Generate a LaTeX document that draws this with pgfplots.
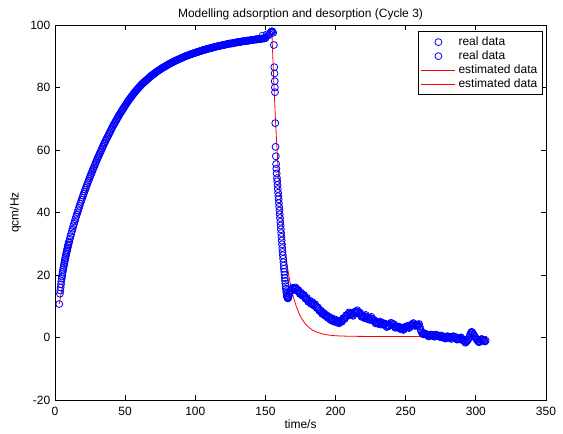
\documentclass[border=0pt]{standalone}
\usepackage{fontspec}
\setmainfont{Liberation Sans}
\usepackage{pgfplots}
\pgfplotsset{compat=1.18}
\usepackage{pgfplotstable}
\usetikzlibrary{calc}

\pgfplotsset{
  marklegend/.style={legend image code/.code={\draw[##1] plot coordinates {(0.45cm,0cm)};}},
  linelegend/.style={legend image code/.code={\draw[##1] (0cm,0cm) -- (0.9cm,0cm);}},
}

% measured data, adsorption part
\pgfplotstableread{
t y
3 10.7
3.5 14.0
3.75 15.0
4 16.0
4.25 17.0
4.5 18.0
4.75 18.8
5 19.5
5.25 20.3
5.5 21.0
5.75 21.7
6 22.3
6.25 22.9
6.5 23.5
6.75 24.1
7 24.7
7.25 25.3
7.5 25.8
7.75 26.4
8 26.9
8.25 27.4
8.5 27.9
8.75 28.4
9 28.9
9.25 29.4
9.5 29.8
9.75 30.3
10 30.7
10.5 31.55
11 32.4
11.5 33.2
12 34.0
12.5 34.8
13 35.6
13.5 36.35
14 37.1
14.5 37.85
15 38.6
15.5 39.3
16 40.0
16.5 40.7
17 41.4
17.5 42.1
18 42.8
18.5 43.45
19 44.1
19.5 44.75
20 45.4
20.5 46.05
21 46.7
21.5 47.3
22 47.9
22.5 48.5
23 49.1
23.5 49.7
24 50.3
24.5 50.9
25 51.5
25.5 52.05
26 52.6
26.5 53.15
27 53.7
27.5 54.25
28 54.8
28.5 55.35
29 55.9
29.5 56.45
30 57.0
30.5 57.5
31 58.0
31.5 58.5
32 59.0
32.5 59.5
33 60.0
33.5 60.5
34 61.0
34.5 61.5
35 62.0
35.5 62.45
36 62.9
36.5 63.35
37 63.8
37.5 64.25
38 64.7
38.5 65.15
39 65.6
39.5 66.05
40 66.5
40.5 66.95
41 67.4
41.5 67.8
42 68.2
42.5 68.6
43 69.0
43.5 69.4
44 69.8
44.5 70.2
45 70.6
45.5 71.0
46 71.4
46.5 71.75
47 72.1
47.5 72.45
48 72.8
48.5 73.15
49 73.5
49.5 73.85
50 74.2
50.5 74.55
51 74.9
51.5 75.25
52 75.6
52.5 75.9
53 76.2
53.5 76.5
54 76.8
54.5 77.1
55 77.4
55.5 77.7
56 78.0
56.5 78.3
57 78.6
57.5 78.85
58 79.1
58.5 79.35
59 79.6
59.5 79.85
60 80.1
60.5 80.35
61 80.6
61.5 80.85
62 81.1
62.5 81.3
63 81.5
63.5 81.7
64 81.9
64.5 82.1
65 82.3
65.5 82.5
66 82.7
66.5 82.9
67 83.1
67.5 83.3
68 83.5
68.5 83.7
69 83.9
69.5 84.05
70 84.2
70.5 84.35
71 84.5
71.5 84.7
72 84.9
72.5 85.05
73 85.2
73.5 85.35
74 85.5
74.5 85.65
75 85.8
75.5 85.95
76 86.1
76.5 86.25
77 86.4
77.5 86.5
78 86.6
78.5 86.75
79 86.9
79.5 87.05
80 87.2
80.5 87.3
81 87.4
81.5 87.55
82 87.7
82.5 87.8
83 87.9
83.5 88.0
84 88.1
84.5 88.25
85 88.4
85.5 88.5
86 88.6
86.5 88.7
87 88.8
87.5 88.9
88 89.0
88.5 89.1
89 89.2
89.5 89.3
90 89.4
90.5 89.5
91 89.6
91.5 89.7
92 89.8
92.5 89.9
93 90.0
93.5 90.1
94 90.2
94.5 90.25
95 90.3
95.5 90.4
96 90.5
96.5 90.6
97 90.7
97.5 90.75
98 90.8
98.5 90.9
99 91.0
99.5 91.05
100 91.1
100.5 91.2
101 91.3
101.5 91.35
102 91.4
102.5 91.5
103 91.6
103.5 91.65
104 91.7
104.5 91.8
105 91.9
105.5 91.95
106 92.0
106.5 92.05
107 92.1
107.5 92.2
108 92.3
108.5 92.35
109 92.4
109.5 92.45
110 92.5
110.5 92.55
111 92.6
111.5 92.65
112 92.7
112.5 92.8
113 92.9
113.5 92.95
114 93.0
114.5 93.05
115 93.1
115.5 93.15
116 93.2
116.5 93.25
117 93.3
117.5 93.35
118 93.4
118.5 93.45
119 93.5
119.5 93.55
120 93.6
120.5 93.65
121 93.7
121.5 93.75
122 93.8
122.5 93.85
123 93.9
123.5 93.95
124 94.0
124.5 94.05
125 94.1
125.5 94.1
126 94.1
126.5 94.15
127 94.2
127.5 94.25
128 94.3
128.5 94.35
129 94.4
129.5 94.45
130 94.5
130.5 94.5
131 94.5
131.5 94.55
132 94.6
132.5 94.65
133 94.7
133.5 94.75
134 94.8
134.5 94.8
135 94.8
135.5 94.85
136 94.9
136.5 94.95
137 95.0
137.5 95.0
138 95.0
138.5 95.05
139 95.1
139.5 95.15
140 95.2
140.5 95.2
141 95.2
141.5 95.25
142 95.3
142.5 95.35
143 95.4
143.5 95.4
144 95.4
144.5 95.45
145 95.5
145.5 95.5
146 95.5
146.5 95.55
147 95.6
147.5 95.65
148 95.7
148.5 95.7
149 95.7
149.5 95.75
150 95.8
148 96.6
151 97.0
152 96.7
}\adsreal

% measured data, desorption part
\pgfplotstableread{
t y
153 97.0
153.5 97.5
154 97.8
154.5 98.0
155 97.9
155.5 97.5
156 93.6
156.3 86.5
156.5 84.5
156.6 82.0
156.7 80.0
156.8 78.5
157 68.6
157.2 61.0
157.4 58.0
157.6 55.5
157.8 54.0
158 52.5
158.2 51.0
158.4 50.0
158.6 48.8
158.8 47.5
159 46.3
159.2 45.2
159.4 44.2
159.6 43.0
159.8 41.8
160 40.6
160.2 39.4
160.4 38.2
160.6 37.0
160.8 35.8
161 34.6
161.2 33.4
161.4 32.2
161.6 31.0
161.8 29.8
162 28.6
162.2 27.4
162.4 26.3
162.6 25.2
162.8 24.1
163 23.0
163.2 22.0
163.4 21.0
163.6 20.0
163.8 19.0
164 18.1
164.2 17.2
164.4 16.4
164.6 15.6
164.8 14.8
165 14.1
165.2 13.5
165.4 13.1
165.6 12.8
165.8 12.6
166 12.5
166.2 12.6
166.4 12.9
166.6 13.3
166.8 13.8
167 14.0
167.5 14.9
168 15.0
168.5 15.0
169 15.5
169.5 15.9
170 15.8
170.5 15.3
171 15.7
171.5 16.0
172 15.5
172.5 14.9
173 15.0
173.5 15.2
174 14.5
174.5 13.9
175 14.0
175.5 14.3
176 13.8
176.5 13.3
177 13.5
177.5 13.6
178 13.0
178.5 12.4
179 12.5
179.5 12.7
180 12.0
180.5 11.4
181 11.5
181.5 11.8
182 11.2
182.5 10.7
183 11.0
183.5 11.3
184 10.8
184.5 10.2
185 10.5
185.5 10.6
186 10.0
186.5 9.4
187 9.5
187.5 9.6
188 9.0
188.5 8.4
189 8.5
189.5 8.6
190 8.0
190.5 7.5
191 7.7
191.5 7.9
192 7.4
192.5 6.9
193 7.0
193.5 7.2
194 6.7
194.5 6.2
195 6.4
195.5 6.6
196 6.0
196.5 5.5
197 5.8
197.5 6.1
198 5.6
198.5 5.1
199 5.5
199.5 5.8
200 5.3
200.5 4.8
201 5.0
201.5 5.3
202 4.8
202.5 4.5
203 5.0
203.5 5.5
204 5.2
204.5 5.0
205 5.6
205.5 6.2
206 6.0
206.5 5.9
207 6.5
207.5 7.1
208 7.0
208.5 6.9
209 7.5
209.5 8.0
210 7.7
210.5 7.2
211 7.5
211.5 7.8
212 7.2
212.5 6.9
213 7.6
213.5 8.2
214 8.0
214.5 7.8
215 8.3
215.5 8.7
216 8.2
216.5 7.6
217 7.8
217.5 7.9
218 7.2
218.5 6.6
219 6.8
219.5 7.0
220 6.5
220.5 6.2
221 6.8
221.5 7.2
222 6.5
222.5 5.9
223 6.0
223.5 6.3
224 5.8
224.5 5.6
225 6.2
225.5 6.6
226 6.0
226.5 5.4
227 5.5
227.5 5.6
228 5.0
228.5 4.5
229 4.6
229.5 4.9
230 4.5
230.5 4.3
231 4.8
231.5 5.1
232 4.6
232.5 4.1
233 4.3
233.5 4.7
234 4.5
234.5 4.0
235 4.3
235.5 4.4
236 3.8
236.5 3.3
237 3.5
237.5 3.9
238 3.8
238.5 3.7
239 4.2
239.5 4.7
240 4.5
240.5 4.0
241 4.3
241.5 4.2
242 3.6
242.5 3.1
243 3.2
243.5 3.6
244 3.5
244.5 3.1
245 3.3
245.5 3.4
246 3.0
246.5 2.6
247 2.8
247.5 3.0
248 2.6
248.5 2.4
249 2.9
249.5 3.4
250 3.3
250.5 3.2
251 3.6
251.5 3.7
252 3.2
252.5 3.0
253 3.5
253.5 4.0
254 3.9
254.5 3.8
255 4.3
255.5 4.6
256 4.2
256.5 3.7
257 3.8
257.5 4.1
258 4.0
258.5 3.7
259 4.1
259.5 4.3
260 3.5
260.5 2.6
261 2.0
261.5 1.5
262 1.3
262.5 1.0
263 1.0
263.5 1.3
264 1.2
264.5 0.9
265 0.8
265.5 0.8
266 0.5
266.5 0.3
267 0.6
267.5 0.9
268 0.9
268.5 0.6
269 0.7
269.5 0.8
270 0.4
270.5 0.2
271 0.6
271.5 0.9
272 0.8
272.5 0.5
273 0.5
273.5 0.6
274 0.3
274.5 0.1
275 0.5
275.5 0.6
276 0.2
276.5 -0.1
277 0.0
277.5 0.2
278 -0.2
278.5 -0.4
279 0.1
279.5 0.4
280 0.3
280.5 0.0
281 0.1
281.5 0.2
282 -0.2
282.5 -0.5
283 0.0
283.5 0.3
284 0.4
284.5 0.1
285 0.2
285.5 0.1
286 -0.3
286.5 -0.7
287 -0.6
287.5 -0.3
288 -0.4
288.5 -0.6
289 -0.1
289.5 0.0
290 -0.5
290.5 -0.9
291 -0.9
291.5 -1.0
292 -1.3
292.5 -1.7
293 -1.5
293.5 -1.2
294 -1.0
294.5 -0.7
295 -0.2
295.5 0.4
296 1.0
296.5 1.5
297 1.8
297.5 1.6
298 1.2
298.5 0.8
299 0.5
299.5 0.1
300 -0.3
300.5 -0.6
301 -0.8
301.5 -1.2
302 -1.5
302.5 -1.5
303 -1.2
303.5 -0.8
304 -0.5
304.5 -0.6
305 -0.8
305.5 -1.0
306 -1.2
306.5 -1.3
307 -1.0
}\desreal

% model fit, adsorption
\pgfplotstableread{
t y
3 10.7
4 13.2
5 15.6
6 17.9
7 20.0
8 22.0
9 24.0
10 26.0
11 27.9
12 29.8
13 31.6
15 35.2
17 38.7
19 42.0
21 45.1
23 48.0
25 50.8
27 53.3
30 56.7
33 59.6
36 62.6
40 66.5
45 70.6
50 74.2
55 77.4
60 80.1
65 82.3
70 84.2
75 85.8
80 87.2
90 89.4
100 91.1
110 92.5
120 93.6
130 94.5
140 95.2
150 95.8
153 96.0
}\adsfit

% model fit, desorption
\pgfplotstableread{
t y
154.6 97.8
155 92.7
156 81.2
157 71.1
158 62.3
159 54.5
160 47.8
161 41.8
162 36.6
163 32.1
164 28.1
165 24.7
166 21.6
167 19.0
168 16.6
169 14.6
170 12.8
172 9.9
174 7.6
176 5.9
178 4.6
180 3.6
183 2.5
186 1.8
190 1.2
195 0.75
200 0.53
210 0.36
230 0.3
260 0.3
308 0.3
}\desfit

\begin{document}
\begin{tikzpicture}
\begin{axis}[
  scale only axis,
  width=368pt, height=281pt,
  xmin=0, xmax=350, ymin=-20, ymax=100,
  xtick={0,50,...,350}, ytick={-20,0,...,100},
  tick align=inside,
  major tick length=3.75pt,
  axis line style={line width=0.6pt},
  tick style={line width=0.6pt, black},
  font=\fontsize{9}{10}\selectfont,
  /pgf/number format/assume math mode=true,
  xticklabel style={yshift=-1.5pt},
  title={Modelling adsorption and desorption (Cycle 3)},
  title style={yshift=-6pt},
  xlabel={time/s},
  xlabel style={yshift=3pt},
  ylabel={qcm/Hz},
  legend style={at={(rel axis cs:0.994,0.984)}, anchor=north east,
    draw=black, line width=0.6pt, font=\fontsize{9}{10}\selectfont,
    row sep=-1.5pt, inner sep=2pt},
  legend cell align=left,
]
\addplot[only marks, mark=o, mark size=2.6pt, blue, mark options={line width=0.6pt}, marklegend]
  table[x=t, y=y] {\adsreal};
\addlegendentry{real data}
\addplot[only marks, mark=o, mark size=2.6pt, blue, mark options={line width=0.6pt}, marklegend]
  table[x=t, y=y] {\desreal};
\addlegendentry{real data}
\addplot[red, line width=0.6pt, no marks, linelegend]
  table[x=t, y=y] {\adsfit};
\addlegendentry{estimated data}
\addplot[red, line width=0.6pt, no marks, linelegend]
  table[x=t, y=y] {\desfit};
\addlegendentry{estimated data}
\end{axis}
\path ($(current axis.south west)+(-41.25pt,-22.5pt)$) rectangle ($(current axis.north east)+(12.75pt,18.75pt)$);
\end{tikzpicture}
\end{document}
